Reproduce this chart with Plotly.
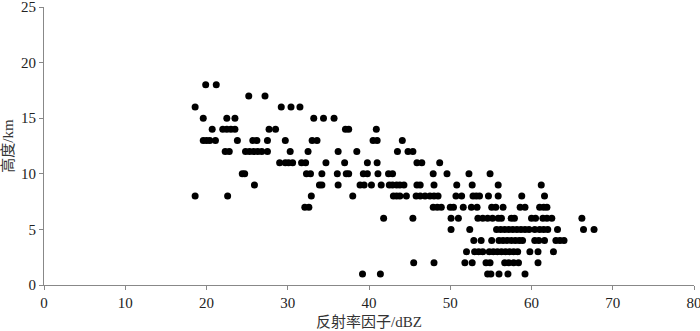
import plotly.graph_objects as go

# Reflectivity (dBZ) values observed at each height level (km)
heights = [18, 17, 16, 15, 14, 13, 12, 11, 10, 9, 8, 7, 6, 5, 4, 3, 2, 1]

dbz_h18 = [19.9, 21.2]
dbz_h17 = [25.2, 27.2]
dbz_h16 = [18.6, 29.2, 30.4, 31.5]
dbz_h15 = [19.6, 22.5, 23.5, 33.2, 34.4, 35.7]
dbz_h14 = [20.7, 22.0, 22.5, 23.0, 23.5, 27.7, 28.5, 37.1, 37.5, 40.9]
dbz_h13 = [19.6, 20.0, 20.4, 21.1, 23.8, 25.7, 26.2, 27.5, 29.7, 33.0, 33.6,
           40.5, 41.0, 44.1]
dbz_h12 = [22.3, 22.8, 24.8, 25.3, 25.8, 26.3, 26.8, 27.5, 30.3, 32.5, 36.2,
           38.5, 43.5, 44.8, 45.4]
dbz_h11 = [29.0, 29.7, 30.1, 30.6, 31.7, 32.2, 34.7, 37.0, 39.8, 41.0, 45.9,
           46.5, 48.7]
dbz_h10 = [24.4, 24.7, 32.3, 32.8, 34.2, 36.1, 37.2, 37.5, 39.3, 39.8, 41.1,
           42.4, 42.9, 47.9, 49.6, 52.3, 54.9]
dbz_h9 = [25.9, 33.9, 34.2, 36.2, 38.9, 39.4, 40.3, 41.5, 42.5, 42.9, 43.4,
          43.8, 44.3, 45.9, 46.3, 48.0, 50.8, 52.7, 55.9, 61.2]
dbz_h8 = [18.6, 22.6, 32.9, 38.0, 43.0, 43.4, 43.8, 44.6, 45.8, 46.3, 46.9,
          47.5, 48.0, 48.5, 50.7, 51.4, 52.8, 53.2, 53.6, 54.7, 55.9, 58.8, 61.6]
dbz_h7 = [32.1, 32.6, 47.9, 48.4, 48.9, 50.0, 50.4, 51.6, 52.6, 53.3, 55.1,
          55.6, 56.5, 58.6, 59.2, 61.0, 61.5, 61.9]
dbz_h6 = [41.8, 45.4, 50.1, 51.0, 53.4, 54.0, 54.6, 55.2, 55.9, 56.3, 57.5,
          57.9, 60.0, 60.5, 61.4, 61.9, 62.5, 66.2]
dbz_h5 = [50.1, 52.4, 55.7, 56.2, 56.7, 57.2, 57.7, 58.2, 58.7, 59.2, 59.7,
          60.4, 61.0, 61.5, 62.0, 63.2, 66.4, 67.7]
dbz_h4 = [52.9, 53.8, 55.1, 56.0, 56.5, 57.0, 57.5, 58.0, 58.5, 58.9, 60.4,
          60.9, 61.6, 63.0, 63.5, 64.0]
dbz_h3 = [52.0, 53.0, 53.5, 54.0, 54.8, 55.3, 55.8, 56.3, 56.8, 57.3, 57.8,
          58.3, 59.8, 60.8, 62.7]
dbz_h2 = [45.5, 48.0, 51.8, 52.7, 54.4, 54.9, 56.7, 57.2, 57.8, 58.4, 60.8]
dbz_h1 = [39.2, 41.4, 54.6, 55.0, 56.0, 57.1, 59.2]

levels = [dbz_h18, dbz_h17, dbz_h16, dbz_h15, dbz_h14, dbz_h13, dbz_h12,
          dbz_h11, dbz_h10, dbz_h9, dbz_h8, dbz_h7, dbz_h6, dbz_h5, dbz_h4,
          dbz_h3, dbz_h2, dbz_h1]

x_vals, y_vals = [], []
for h, vals in zip(heights, levels):
    x_vals.extend(vals)
    y_vals.extend([h] * len(vals))

x_ticks = [0, 10, 20, 30, 40, 50, 60, 70, 80]
y_ticks = [0, 5, 10, 15, 20, 25]

fig = go.Figure(go.Scatter(
    x=x_vals, y=y_vals, mode="markers",
    marker=dict(color="black", size=7, line=dict(width=0)),
    showlegend=False, cliponaxis=False,
))

serif = "Times New Roman, Liberation Serif, Noto Sans CJK SC, serif"
axis_font = dict(family=serif, size=15, color="#222")
title_font = dict(family=serif, size=15, color="#333")

fig.update_layout(
    width=700, height=331,
    margin=dict(l=44, r=6, t=7, b=46, autoexpand=False),
    paper_bgcolor="white", plot_bgcolor="white",
    xaxis=dict(
        range=[0, 80], tickvals=x_ticks, ticktext=[str(v) for v in x_ticks],
        showgrid=False, zeroline=False, showline=True, linecolor="#888",
        linewidth=1, ticks="outside", ticklen=4, tickcolor="#888",
        tickfont=axis_font, ticklabeloverflow="allow", automargin=False,
        title=dict(text="反射率因子/dBZ", font=title_font, standoff=6),
    ),
    yaxis=dict(
        range=[0, 25], tickvals=y_ticks, ticktext=[str(v) for v in y_ticks],
        showgrid=False, zeroline=False, showline=True, linecolor="#888",
        linewidth=1, ticks="outside", ticklen=4, tickcolor="#888",
        tickfont=axis_font, ticklabeloverflow="allow", automargin=False,
        title=dict(text="高度/km", font=title_font, standoff=4),
    ),
)

fig.write_html("out.html", config={"displayModeBar": False},
               post_script="document.body.style.margin='0';")
